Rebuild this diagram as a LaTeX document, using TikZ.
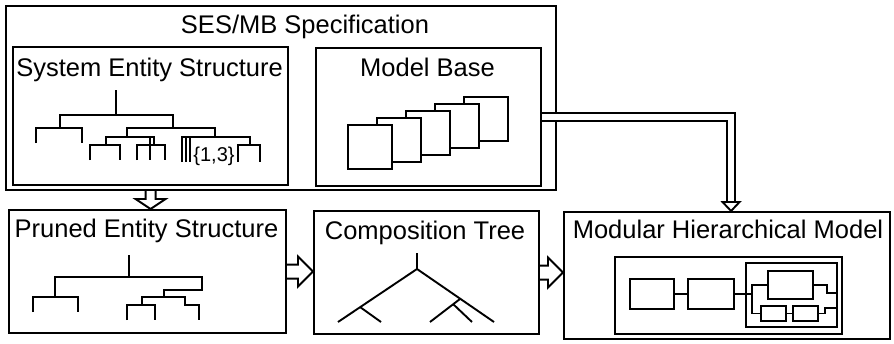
\documentclass[tikz,border=0pt]{standalone}
\usepackage{fontspec}
\setmainfont{Liberation Sans}
\usetikzlibrary{calc}
\tikzset{
  box/.style={draw, line width=2.1pt, rectangle, inner sep=0pt, anchor=north west},
  sbox/.style={draw, line width=1.9pt, rectangle, inner sep=0pt, anchor=north west, fill=white},
  ttl/.style={anchor=base, inner sep=0pt, font=\fontsize{25.5}{30}\selectfont},
  tree/.style={line width=1.9pt, line join=miter},
  blk/.style={line width=1.9pt, line join=miter},
}
\newcommand{\rblockarrow}[2]{\draw[blk] let \p1=#1, \p2=#2 in
  (\x1,\y1+7pt) -- (\x2-15pt,\y1+7pt) -- (\x2-15pt,\y1+15pt) -- (\x2,\y1)
  -- (\x2-15pt,\y1-15pt) -- (\x2-15pt,\y1-7pt) -- (\x1,\y1-7pt);}
\newcommand{\dblockarrow}[2]{\draw[blk] let \p1=#1, \p2=#2 in
  (\x1-5pt,\y1) -- (\x1-5pt,\y2+10pt) -- (\x1-15pt,\y2+10pt) -- (\x1,\y2)
  -- (\x1+15pt,\y2+10pt) -- (\x1+5pt,\y2+10pt) -- (\x1+5pt,\y1);}
\begin{document}
\begin{tikzpicture}[x=1pt,y=-1pt]
\useasboundingbox (0,0) rectangle (894,343);

% main boxes
\node[box, minimum width=550pt, minimum height=184pt] (spec) at (5,5) {};
\node[box, minimum width=275pt, minimum height=138pt] (ses) at (12,46) {};
\node[box, minimum width=225pt, minimum height=138pt] (mb) at (315,47) {};
\node[box, minimum width=277pt, minimum height=123pt] (peb) at (8,209) {};
\node[box, minimum width=225pt, minimum height=123pt] (ct) at (313,210) {};
\node[box, minimum width=326pt, minimum height=127pt] (mhm) at (563,211) {};

% titles
\node[ttl] (tspec) at (305,33) {SES/MB Specification};
\node[ttl] (tses) at (149.5,76) {System Entity Structure};
\node[ttl] (tmb) at (427.5,76) {Model Base};
\node[ttl] (tpeb) at (146.5,237) {Pruned Entity Structure};
\node[ttl] (tct) at (425,239) {Composition Tree};
\node[ttl] (tmhm) at (728,238) {Modular Hierarchical Model};

% SES tree
\draw[tree] (116,90) -- (116,115);
\draw[tree] (60,128) -- (60,115) -- (173,115) -- (173,128);
\draw[tree] (36,143) -- (36,128) -- (82,128) -- (82,143);
\draw[tree] (127,137) -- (127,128) -- (215,128) -- (215,137);
\draw[tree] (106,145) -- (106,137) -- (154,137) -- (154,145);
\draw[tree] (90,160) -- (90,145) -- (120,145) -- (120,160);
\draw[tree] (137,160) -- (137,145) -- (165,145) -- (165,160);
\draw[tree] (150,137) -- (150,160);
\draw[tree] (182,162) -- (182,137) -- (250,137) -- (250,145);
\draw[tree] (186,137) -- (186,162);
\draw[tree] (190,137) -- (190,162);
\draw[tree] (238,162) -- (238,145) -- (260,145) -- (260,162);
\node[anchor=base, inner sep=0pt, font=\fontsize{20}{24}\selectfont] (spec13) at (214,161) {\{1,3\}};

% Model base stacked squares
\foreach \k in {4,3,2,1,0} {
  \node[sbox, minimum width=44pt, minimum height=44pt] (sq\k) at ({347+29*\k},{124-7*\k}) {};
}

% Pruned tree
\draw[tree] (129,255) -- (129,277);
\draw[tree] (55,297) -- (55,277) -- (202,277) -- (202,290) -- (164,290) -- (164,297);
\draw[tree] (33,312) -- (33,297) -- (78,297) -- (78,312);
\draw[tree] (142,305) -- (142,297) -- (185,297) -- (185,305) -- (199,305) -- (199,320);
\draw[tree] (127,320) -- (127,305) -- (155,305) -- (155,320);

% Composition tree
\draw[tree] (417,253) -- (417,269);
\draw[tree] (338,322) -- (417,269) -- (494,322);
\draw[tree] (360,307) -- (381,322);
\draw[tree] (460,299) -- (430,322);
\draw[tree] (453,304) -- (472,322);

% Modular hierarchical model
\draw[line width=1.9pt] (615,257) rectangle (842,334);
\node[sbox, minimum width=44pt, minimum height=30pt] (b1) at (629,278) {};
\node[sbox, minimum width=46pt, minimum height=30pt] (b2) at (687,278) {};
\node[sbox, minimum width=91pt, minimum height=64pt] (cpl) at (745,262) {};
\node[sbox, minimum width=45pt, minimum height=28pt] (big) at (767,270) {};
\node[sbox, minimum width=25pt, minimum height=15pt] (s1) at (760,305) {};
\node[sbox, minimum width=25pt, minimum height=15pt] (s2) at (792,305) {};
\draw[tree] (b1.east) -- (b2.west);
\draw[tree] (b2.east) -- (b2.east -| cpl.west) -- ++(7,0) coordinate (j);
\draw[tree] (big.west) -| (j) |- (s1.west);
\draw[tree] (s1.east) -- (s2.west);
\draw[tree] (big.east) -- ++(13,0) |- ($(cpl.east)+(0,-2)$);
\draw[tree] (s2.east) -- ++(6,0) |- ($(cpl.east)+(0,13)$);

% block arrows
\dblockarrow{(ses.south |- spec.south)}{(peb.north)}
\rblockarrow{(peb.east)}{(ct.west)}
\rblockarrow{(ct.east)}{(mhm.west)}

% double-line arrow from model base to modular hierarchical model
\draw[line width=1.7pt, double=white, double distance=6.5pt, line join=miter]
  (mb.east) -| ($(mhm.north)+(4,-8)$);
\draw[blk, fill=white] ($(mhm.north)+(-4.5,-9)$) -- ($(mhm.north)+(4,0)$)
  -- ($(mhm.north)+(12.5,-9)$) -- cycle;
\end{tikzpicture}
\end{document}
